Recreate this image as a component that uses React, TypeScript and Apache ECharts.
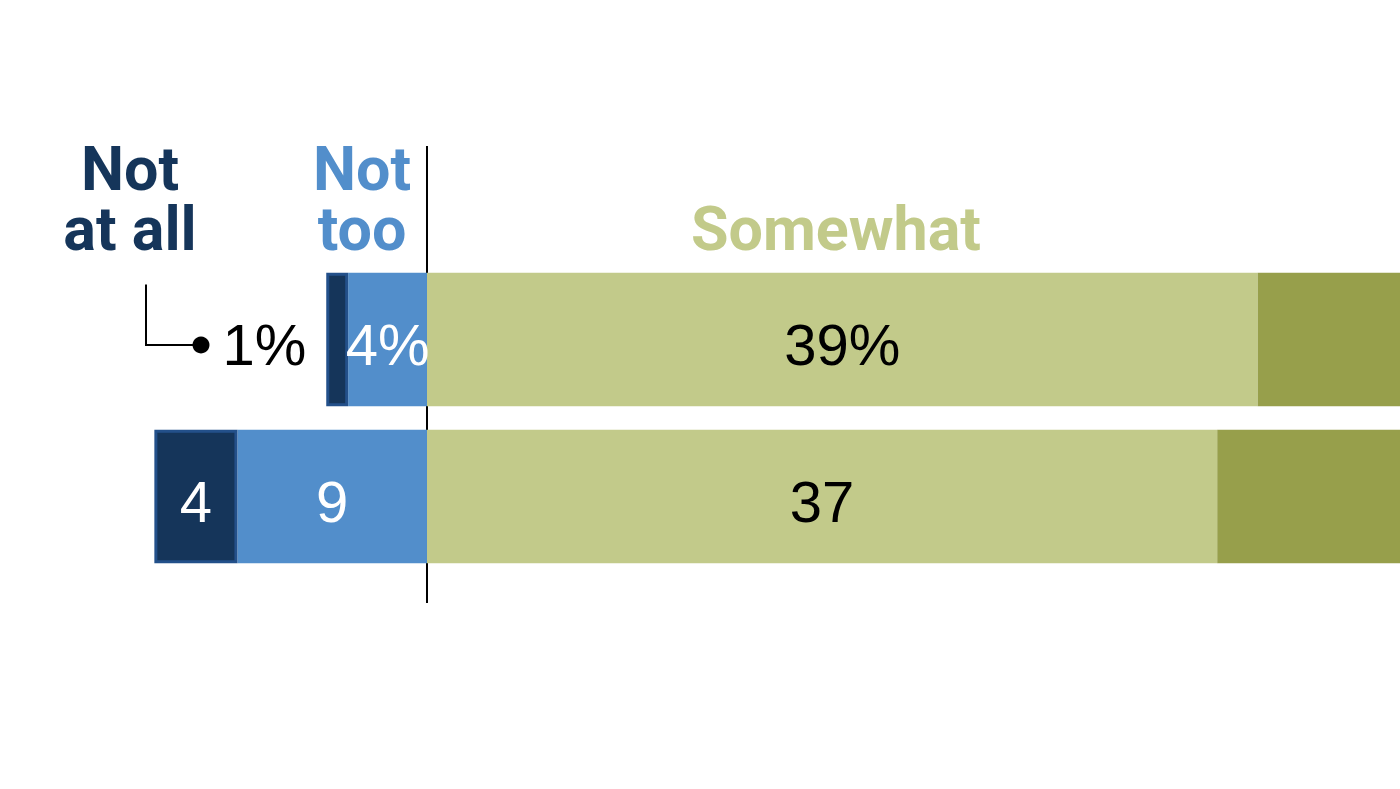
import React, { useEffect, useRef } from "react";
import * as echarts from "echarts";

const categories = ["Row 1", "Row 2"];
const notAtAll = [1.03, 3.9];
const notToo = [3.7, 8.9];
const somewhat = [39.0, 37.1];
const very = [56, 50];

const headerNotAtAll = ["Not", "at all"];
const headerNotToo = ["Not", "too"];
const headerSomewhat = ["Somewhat"];

const C_NAVY = "#15355a";
const C_NAVY_BORDER = "#23508a";
const C_BLUE = "#528ecb";
const C_LGREEN = "#c2ca8a";
const C_DGREEN = "#979f4b";

const NUM_FONT = "'Liberation Sans', Arial, sans-serif";
const HEAD_FONT = "Roboto, 'Noto Sans', sans-serif";

function fmt(v: number, idx: number) {
  const r = Math.round(Math.abs(v));
  return idx === 0 ? `${r}%` : `${r}`;
}

export default function App() {
  const ref = useRef<HTMLDivElement>(null);
  useEffect(() => {
    document.body.style.margin = "0";
    if (!ref.current) return;
    const chart = echarts.init(ref.current, undefined, { renderer: "svg" });
    const numLabel = (color: string) => ({
      show: true,
      position: "inside" as const,
      color,
      fontFamily: NUM_FONT,
      fontSize: 58,
      offset: [0, 5],
      formatter: (p: any) => fmt(p.value, p.dataIndex),
    });
    chart.setOption({
      animation: false,
      grid: { left: 0, right: 0, top: 261, height: 314 },
      xAxis: {
        type: "value",
        min: -20.047,
        max: 45.681,
        show: false,
        splitLine: { show: false },
      },
      yAxis: {
        type: "category",
        data: categories,
        inverse: true,
        show: false,
      },
      series: [
        {
          name: "Not too",
          type: "bar",
          stack: "all",
          barCategoryGap: "15%",
          data: notToo.map((v) => -v),
          itemStyle: { color: C_BLUE },
          label: numLabel("#ffffff"),
        },
        {
          name: "Not at all",
          type: "bar",
          stack: "all",
          data: notAtAll.map((v, i) =>
            i === 0
              ? {
                  value: -v,
                  label: { position: "left", distance: 20, color: "#000000" },
                }
              : { value: -v }
          ),
          itemStyle: { color: C_NAVY, borderColor: C_NAVY_BORDER, borderWidth: 3 },
          label: numLabel("#ffffff"),
        },
        {
          name: "Somewhat",
          type: "bar",
          stack: "all",
          data: somewhat,
          itemStyle: { color: C_LGREEN },
          label: numLabel("#000000"),
        },
        {
          name: "Very",
          type: "bar",
          stack: "all",
          data: very,
          itemStyle: { color: C_DGREEN },
          label: { show: false },
        },
      ],
    });

    const x0 = chart.convertToPixel({ xAxisIndex: 0 }, 0) as number;
    const row1 = chart.convertToPixel({ yAxisIndex: 0 }, categories[0]) as number;
    const headText = (lines: string[], x: number, color: string) => ({
      type: "text",
      x,
      y: 199 - (lines.length - 1) * 60,
      style: {
        text: lines.join("\n"),
        fill: color,
        font: `bold 61px ${HEAD_FONT}`,
        lineHeight: 60,
        align: "center",
        verticalAlign: "top",
      },
    });

    chart.setOption({
      graphic: [
        {
          type: "line",
          shape: { x1: x0, y1: 146, x2: x0, y2: 603 },
          style: { stroke: "#000000", lineWidth: 2 },
        },
        {
          type: "polyline",
          shape: { points: [[146, row1 - 55], [146, row1 + 5.5], [201, row1 + 5.5]] },
          style: { stroke: "#000000", lineWidth: 2, fill: null },
        },
        {
          type: "circle",
          shape: { cx: 201, cy: row1 + 5.5, r: 8.5 },
          style: { fill: "#000000" },
        },
        headText(headerNotAtAll, 130, C_NAVY),
        headText(headerNotToo, 362, C_BLUE),
        headText(headerSomewhat, 836, C_LGREEN),
      ],
    });
    return () => chart.dispose();
  }, []);
  return <div ref={ref} style={{ width: 1400, height: 789 }} />;
}
